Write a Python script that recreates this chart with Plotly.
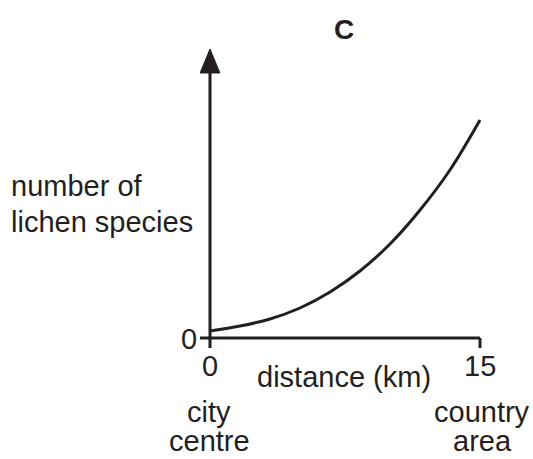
import plotly.graph_objects as go

# data (distance in km, relative number of lichen species)
distance = [0, 1.67, 3.33, 5.0, 6.67, 8.33, 10.0, 11.67, 13.33, 15.0]
species = [7, 12, 19, 30, 46, 67, 94, 128, 168, 218]

x_ticks = [0, 15]
x_tick_labels = ["0", "15"]
y_tick_labels = ["0"]

FONT = "Liberation Sans, Arial, sans-serif"
INK = "#231f20"
FS = 29

fig = go.Figure()
fig.add_trace(go.Scatter(x=distance, y=species, mode="lines",
                         line=dict(color=INK, width=3, shape="spline", smoothing=1.0),
                         hoverinfo="skip", showlegend=False))

shapes = [
    # x axis
    dict(type="line", x0=-0.56, x1=15, y0=0, y1=0, line=dict(color=INK, width=3)),
    # y axis
    dict(type="line", x0=0, x1=0, y0=-10, y1=268, line=dict(color=INK, width=3)),
    # tick at 15
    dict(type="line", x0=15, x1=15, y0=0, y1=-10, line=dict(color=INK, width=3)),
    # arrow head
    dict(type="path", path="M -0.55 265 L 0.55 265 L 0 289 Z", fillcolor=INK,
         line=dict(color=INK, width=1)),
]

W, H = 533, 459
L, R, T, B = 200, 33, 48, 109
PW, PH = W - L - R, H - T - B

def px(xp): return (xp - L) / PW
def py(yp): return (H - B - yp) / PH

ann = []
def txt(x, y, s, xanchor="center", size=FS, bold=False):
    ann.append(dict(x=px(x), y=py(y), xref="paper", yref="paper",
                    text=("<b>%s</b>" % s) if bold else s,
                    showarrow=False, xanchor=xanchor, yanchor="middle",
                    font=dict(family=FONT, size=size, color=INK)))

txt(344, 29, "C", size=28, bold=True)
txt(9, 186, "number of", xanchor="left")
txt(9, 222, "lichen species", xanchor="left")
txt(189, 339, y_tick_labels[0])
for xv, lab in zip(x_ticks, x_tick_labels):
    ann.append(dict(x=xv, y=py(366), xref="x", yref="paper", text=lab, showarrow=False,
                    xanchor="center", yanchor="middle",
                    font=dict(family=FONT, size=FS, color=INK)))
txt(344, 377, "distance (km)")
txt(209, 412, "city")
txt(209, 441, "centre")
txt(482, 412, "country")
txt(482, 441, "area")

fig.update_layout(
    width=W, height=H,
    margin=dict(l=L, r=R, t=T, b=B),
    paper_bgcolor="white", plot_bgcolor="white",
    xaxis=dict(range=[-10/18, 290/18], visible=False, fixedrange=True),
    yaxis=dict(range=[-12, 290], visible=False, fixedrange=True),
    shapes=shapes, annotations=ann, showlegend=False,
)
fig.write_html("out.html", config={"displayModeBar": False},
               post_script="document.body.style.margin='0';document.body.style.overflow='hidden';")
